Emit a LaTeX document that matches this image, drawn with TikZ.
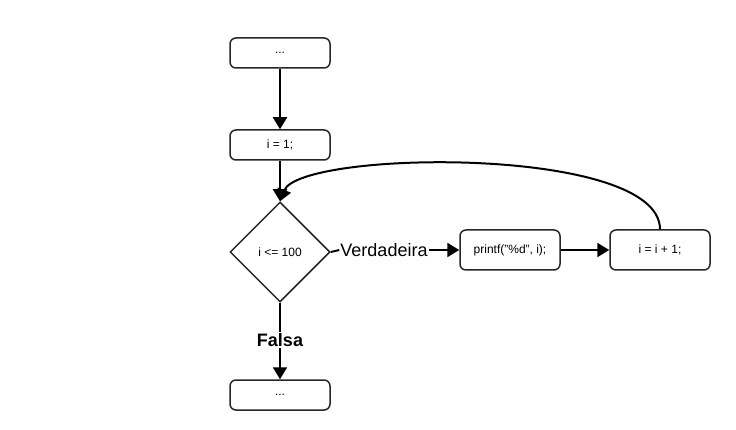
\documentclass[tikz,border=0pt]{standalone}
\usepackage{fontspec}
\setmainfont{Liberation Sans}
\usetikzlibrary{arrows.meta,shapes.geometric}
\begin{document}
\begin{tikzpicture}[x=1pt,y=-1pt,
  box/.style={draw=black!85,line width=1.5pt,rounded corners=6pt,minimum width=100pt,minimum height=30pt,inner sep=0pt,font=\fontsize{12}{14}\selectfont},
  dec/.style={draw=black!85,line width=1.5pt,diamond,minimum width=100pt,minimum height=100pt,inner sep=0pt,font=\fontsize{12}{14}\selectfont},
  lbl/.style={fill=white,inner sep=1pt,font=\fontsize{18}{20}\selectfont},
  arr/.style={line width=2pt,-{Triangle[length=12pt,width=14pt]}},
  ln/.style={line width=2pt}]
\useasboundingbox (0,0) rectangle (736,430);
\node[box] (top) at (280,53) {...};
\node[box] (init) at (280,145) {i = 1;};
\node[dec] (cond) at (280,252) {i <= 100};
\node[box,minimum height=40pt] (pr) at (510,250) {printf("\%d", i);};
\node[box,minimum height=40pt] (inc) at (660,250) {i = i + 1;};
\node[box] (end) at (280,395) {...};
\node[lbl] (ver) at (384,250) {Verdadeira};
\node[lbl,font=\fontsize{18}{20}\selectfont\bfseries] (fal) at (280,340) {Falsa};
\draw[arr] (top) -- (init);
\draw[arr] (init) -- (cond.north);
\draw[ln] (cond.east) -- (ver.west);
\draw[arr] (ver.east) -- (pr.west);
\draw[arr] (pr) -- (inc);
\draw[ln] (cond.south) -- (fal.north);
\draw[arr] (fal.south) -- (end.north);
\draw[arr] (inc.north) .. controls (660,145) and (300,150) .. (cond.north);
\end{tikzpicture}
\end{document}
